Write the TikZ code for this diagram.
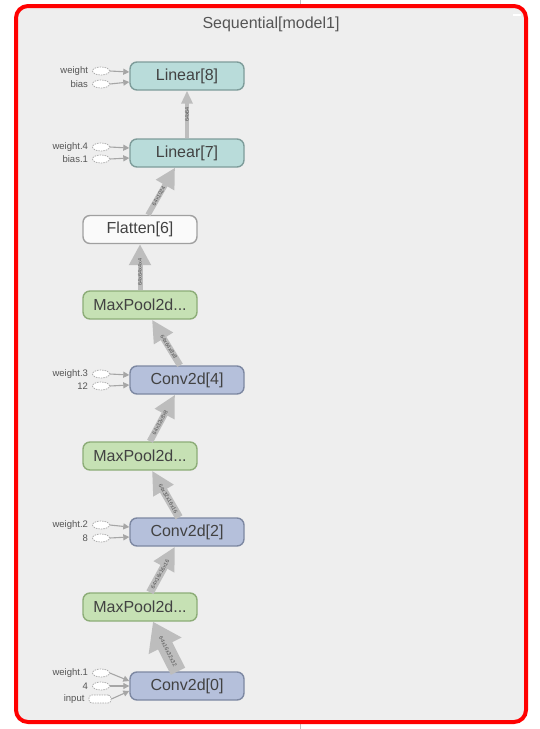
\documentclass[tikz,border=0pt]{standalone}
\usepackage{fontspec}
\setmainfont{Liberation Sans}
\usetikzlibrary{arrows.meta,shapes.geometric}
\definecolor{panelbg}{HTML}{EEEEEE}
\definecolor{linfill}{HTML}{B9DCDA}
\definecolor{linline}{HTML}{7E9C9A}
\definecolor{convfill}{HTML}{B5C0DB}
\definecolor{convline}{HTML}{7D88A2}
\definecolor{poolfill}{HTML}{C6E1B4}
\definecolor{poolline}{HTML}{8DAD78}
\definecolor{flatfill}{HTML}{FAFAFA}
\definecolor{flatline}{HTML}{A0A0A0}
\definecolor{flowgray}{HTML}{BDBDBD}
\definecolor{ingray}{HTML}{A6A6A6}
\definecolor{txtdark}{HTML}{424242}
\definecolor{txtmid}{HTML}{555555}
\tikzset{
  opbox/.style={rounded corners=7pt, minimum width=114pt, minimum height=28pt,
    line width=1.4pt, inner sep=0pt, text=txtdark, font=\fontsize{16}{18}\selectfont},
  linbox/.style={opbox, fill=linfill, draw=linline},
  convbox/.style={opbox, fill=convfill, draw=convline},
  poolbox/.style={opbox, fill=poolfill, draw=poolline},
  flatbox/.style={opbox, fill=flatfill, draw=flatline},
  inell/.style={ellipse, draw=ingray, fill=white, minimum width=17pt,
    minimum height=8pt, inner sep=0pt, line width=0.7pt, dash pattern=on 1.5pt off 1pt},
  inrect/.style={rounded corners=3pt, draw=ingray, fill=white, minimum width=22pt,
    minimum height=8pt, inner sep=0pt, line width=0.7pt, dash pattern=on 1.5pt off 1pt},
  inlbl/.style={text=txtmid, font=\fontsize{9.5}{10}\selectfont, inner sep=0pt, anchor=east},
  inarrow/.style={draw=ingray, line width=1.1pt, -{Triangle[width=6pt,length=6pt]}},
  flow/.style={draw=flowgray, line cap=butt},
  elbl/.style={sloped, text=txtmid, font=\fontsize{5.5}{6}\selectfont, inner sep=0pt, pos=0.4}
}
\begin{document}
\begin{tikzpicture}[x=1pt,y=-1pt]
\useasboundingbox (0,0) rectangle (539,729);
\fill[white] (0,0) rectangle (539,729);
\draw[draw=black!25, line width=1pt] (300,0) -- (300,729);
\draw[red, line width=4pt, fill=panelbg, rounded corners=12pt] (16,6) rectangle (526,722);
\draw[white, line width=1.5pt] (513,15) -- (521,15);
\node[text=txtmid, font=\fontsize{16}{18}\selectfont] (title) at (271,24) {Sequential[model1]};

% operation nodes
\node[linbox]  (l8)  at (187,76)  {Linear[8]};
\node[linbox]  (l7)  at (187,153) {Linear[7]};
\node[flatbox] (fl)  at (140,229.5) {Flatten[6]};
\node[poolbox] (mp3) at (140,305) {MaxPool2d...};
\node[convbox] (c4)  at (187,380) {Conv2d[4]};
\node[poolbox] (mp2) at (140,456) {MaxPool2d...};
\node[convbox] (c2)  at (187,532) {Conv2d[2]};
\node[poolbox] (mp1) at (140,607) {MaxPool2d...};
\node[convbox] (c0)  at (187,686) {Conv2d[0]};

% data flow arrows
\draw[flow, line width=16pt, -{Triangle[width=35pt,length=27pt]}]
  ([xshift=-9pt]c0.north) -- ([xshift=13pt]mp1.south) node[elbl] {64x16x32x32};
\draw[flow, line width=8pt, -{Triangle[width=22pt,length=23pt]}]
  ([xshift=10pt]mp1.north) -- ([xshift=-12pt]c2.south) node[elbl] {64x16x16x16};
\draw[flow, line width=8pt, -{Triangle[width=22pt,length=23pt]}]
  ([xshift=-8pt]c2.north) -- ([xshift=12pt]mp2.south) node[elbl] {64x32x16x16};
\draw[flow, line width=6.5pt, -{Triangle[width=21pt,length=22pt]}]
  ([xshift=10pt]mp2.north) -- ([xshift=-12pt]c4.south) node[elbl] {64x32x8x8};
\draw[flow, line width=6.5pt, -{Triangle[width=21pt,length=22pt]}]
  ([xshift=-7pt]c4.north) -- ([xshift=12pt]mp3.south) node[elbl] {64x64x8x8};
\draw[flow, line width=5pt, -{Triangle[width=21pt,length=21pt]}]
  (mp3.north) -- (fl.south) node[elbl] {64x64x4x4};
\draw[flow, line width=5.5pt, -{Triangle[width=20pt,length=20pt]}]
  ([xshift=8pt]fl.north) -- ([xshift=-12pt]l7.south) node[elbl] {64x1024};
\draw[flow, line width=3.5pt, -{Triangle[width=11pt,length=13pt]}]
  (l7.north) -- (l8.south) node[elbl, pos=0.5] {64x64};

% parameter inputs
\node[inell] (i8a) at (101,71) {};
\node[inlbl] at ([xshift=-4pt]i8a.west) {weight};
\draw[inarrow] (i8a.east) -- ([yshift=4pt]l8.west);
\node[inell] (i8b) at (101,84) {};
\node[inlbl] at ([xshift=-4pt]i8b.west) {bias};
\draw[inarrow] (i8b.east) -- ([yshift=-6pt]l8.west);

\node[inell] (i7a) at (101,147) {};
\node[inlbl] at ([xshift=-4pt]i7a.west) {weight.4};
\draw[inarrow] (i7a.east) -- ([yshift=5pt]l7.west);
\node[inell] (i7b) at (101,159) {};
\node[inlbl] at ([xshift=-4pt]i7b.west) {bias.1};
\draw[inarrow] (i7b.east) -- ([yshift=-5pt]l7.west);

\node[inell] (i4a) at (101,374) {};
\node[inlbl] at ([xshift=-4pt]i4a.west) {weight.3};
\draw[inarrow] (i4a.east) -- ([yshift=5pt]c4.west);
\node[inell] (i4b) at (101,386) {};
\node[inlbl] at ([xshift=-4pt]i4b.west) {12};
\draw[inarrow] (i4b.east) -- ([yshift=-5pt]c4.west);

\node[inell] (i2a) at (101,525) {};
\node[inlbl] at ([xshift=-4pt]i2a.west) {weight.2};
\draw[inarrow] (i2a.east) -- ([yshift=5pt]c2.west);
\node[inell] (i2b) at (101,538) {};
\node[inlbl] at ([xshift=-4pt]i2b.west) {8};
\draw[inarrow] (i2b.east) -- ([yshift=-5pt]c2.west);

\node[inell] (i0a) at (101,673) {};
\node[inlbl] at ([xshift=-4pt]i0a.west) {weight.1};
\draw[inarrow] (i0a.east) -- ([yshift=5pt]c0.west);
\node[inell] (i0b) at (101,686) {};
\node[inlbl] at ([xshift=-4pt]i0b.west) {4};
\draw[inarrow] (i0b.east) -- (c0.west);
\node[inrect] (i0c) at (100,699) {};
\node[inlbl] at ([xshift=-4pt]i0c.west) {input};
\draw[inarrow] (i0c.east) -- ([yshift=-5pt]c0.west);
\end{tikzpicture}
\end{document}
